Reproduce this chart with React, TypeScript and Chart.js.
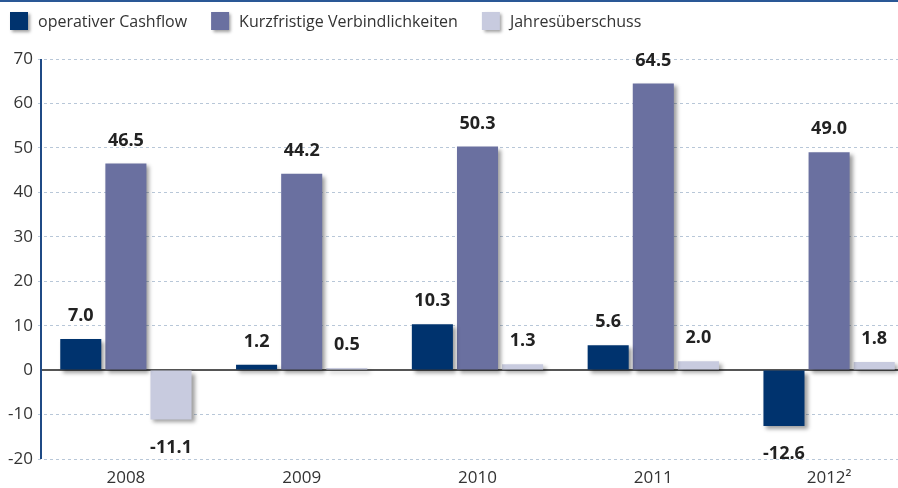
import React, { useEffect, useRef } from "react";
import { Chart, registerables } from "chart.js";

Chart.register(...registerables);

const years = ["2008", "2009", "2010", "2011", "2012²"];
const cashflow = [7.0, 1.2, 10.3, 5.6, -12.6];
const liabilities = [46.5, 44.2, 50.3, 64.5, 49.0];
const netIncome = [-11.1, 0.5, 1.3, 2.0, 1.8];
const seriesNames = ["operativer Cashflow", "Kurzfristige Verbindlichkeiten", "Jahresüberschuss"];
const seriesColors = ["#00336e", "#6a70a0", "#c8cbdf"];
const yMin = -20;
const yMax = 70;
const yStep = 10;

const FONT = "'Open Sans', 'DejaVu Sans', sans-serif";

const decorPlugin = {
  id: "decor",
  beforeDatasetsDraw(chart: any) {
    const ctx = chart.ctx;
    const area = chart.chartArea;
    const y0 = chart.scales.y.getPixelForValue(0);
    ctx.save();
    ctx.strokeStyle = "#555555";
    ctx.lineWidth = 2;
    ctx.beginPath();
    ctx.moveTo(area.left + 3, y0);
    ctx.lineTo(area.right, y0);
    ctx.stroke();
    ctx.strokeStyle = "#1f4a85";
    ctx.beginPath();
    ctx.moveTo(area.left + 3, area.top);
    ctx.lineTo(area.left + 3, area.bottom);
    ctx.stroke();
    ctx.restore();
    ctx.save();
    ctx.shadowColor = "rgba(0,0,0,0.38)";
    ctx.shadowBlur = 4;
    ctx.shadowOffsetX = 3;
    ctx.shadowOffsetY = 3;
  },
  afterDatasetsDraw(chart: any) {
    const ctx = chart.ctx;
    ctx.restore();
    ctx.save();
    ctx.font = `bold 18px ${FONT}`;
    ctx.fillStyle = "#222222";
    ctx.textAlign = "center";
    ctx.textBaseline = "middle";
    chart.data.datasets.forEach((ds: any, i: number) => {
      const meta = chart.getDatasetMeta(i);
      meta.data.forEach((el: any, j: number) => {
        const v = ds.data[j];
        const y = v >= 0 ? el.y - 23 : el.y + 28;
        ctx.fillText(v.toFixed(1), el.x, y);
      });
    });
    ctx.restore();
  },
  afterDraw(chart: any) {
    const ctx = chart.ctx;
    ctx.save();
    ctx.fillStyle = "#2a5896";
    ctx.fillRect(0, 0, chart.width, 2);
    ctx.font = `16px ${FONT}`;
    ctx.textBaseline = "middle";
    ctx.textAlign = "left";
    let x = 10;
    const boxTop = 12;
    const box = 18;
    seriesNames.forEach((name, i) => {
      ctx.save();
      ctx.shadowColor = "rgba(0,0,0,0.38)";
      ctx.shadowBlur = 3;
      ctx.shadowOffsetX = 2;
      ctx.shadowOffsetY = 2;
      ctx.fillStyle = seriesColors[i];
      ctx.fillRect(x, boxTop, box, box);
      ctx.restore();
      ctx.fillStyle = "#333333";
      const tx = x + box + 10;
      ctx.fillText(name, tx, boxTop + box / 2 + 1);
      x = tx + ctx.measureText(name).width + 24;
    });
    ctx.restore();
  },
};

export default function App() {
  const ref = useRef<HTMLCanvasElement>(null);
  useEffect(() => {
    if (!ref.current) return;
    const chart = new Chart(ref.current, {
      type: "bar",
      data: {
        labels: years,
        datasets: [
          { label: seriesNames[0], data: cashflow, backgroundColor: seriesColors[0] },
          { label: seriesNames[1], data: liabilities, backgroundColor: seriesColors[1] },
          { label: seriesNames[2], data: netIncome, backgroundColor: seriesColors[2] },
        ],
      },
      options: {
        responsive: false,
        animation: false,
        layout: { padding: { top: 59, left: 0, right: 0, bottom: 0 } },
        datasets: { bar: { categoryPercentage: 0.77, barPercentage: 0.91 } },
        plugins: { legend: { display: false }, tooltip: { enabled: false } },
        scales: {
          x: {
            type: "category",
            offset: true,
            grid: { display: false, drawTicks: false },
            border: { display: false },
            ticks: { color: "#333333", font: { family: FONT, size: 17 }, padding: 9 },
            afterFit: (s: any) => {
              s.height = 29;
            },
          },
          y: {
            min: yMin,
            max: yMax,
            grid: {
              color: (c: any) => (c.tick && c.tick.value === 0 ? "rgba(0,0,0,0)" : "#b8c7d8"),
              lineWidth: 1,
              drawTicks: false,
            },
            border: { display: false, dash: [3, 3] },
            ticks: {
              stepSize: yStep,
              color: "#333333",
              font: { family: FONT, size: 17 },
              padding: 5,
            },
            afterFit: (s: any) => {
              s.width = 38;
            },
          },
        },
      },
      plugins: [decorPlugin],
    } as any);
    return () => chart.destroy();
  }, []);
  return (
    <div
      style={{
        position: "fixed",
        left: 0,
        top: 0,
        width: 898,
        height: 488,
        overflow: "hidden",
        background: "#ffffff",
      }}
    >
      <canvas ref={ref} width={917} height={488} style={{ display: "block" }} />
    </div>
  );
}
